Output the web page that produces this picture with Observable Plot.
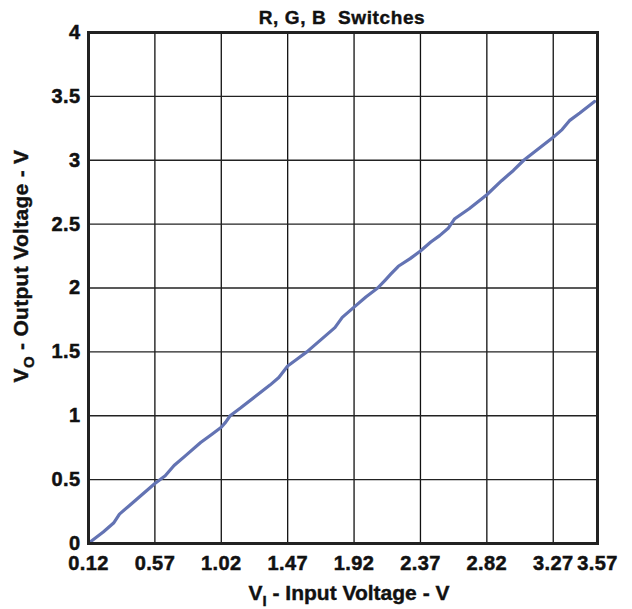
<!DOCTYPE html>
<html>
<head>
<meta charset="utf-8">
<script src="https://cdn.jsdelivr.net/npm/d3@7"></script>
<script src="https://cdn.jsdelivr.net/npm/@observablehq/plot@0.6"></script>
<style>
  html, body { margin: 0; padding: 0; background: #fff; }
</style>
</head>
<body>
<div id="chart"></div>
<script>
const inputV = [0.14, 0.22, 0.29, 0.33, 0.40, 0.48, 0.57, 0.64, 0.70, 0.78, 0.88, 0.95, 1.02, 1.05, 1.08, 1.15, 1.25, 1.35, 1.41, 1.47, 1.53, 1.60, 1.70, 1.79, 1.84, 1.92, 2.00, 2.08, 2.13, 2.17, 2.22, 2.30, 2.37, 2.44, 2.50, 2.56, 2.60, 2.70, 2.82, 2.92, 3.00, 3.07, 3.17, 3.27, 3.33, 3.38, 3.45, 3.55];
const outputV = [0.02, 0.09, 0.16, 0.23, 0.30, 0.38, 0.47, 0.53, 0.61, 0.69, 0.79, 0.85, 0.91, 0.95, 1.00, 1.06, 1.15, 1.24, 1.30, 1.39, 1.44, 1.50, 1.60, 1.69, 1.77, 1.85, 1.93, 2.00, 2.06, 2.11, 2.17, 2.23, 2.29, 2.36, 2.41, 2.47, 2.54, 2.62, 2.73, 2.84, 2.92, 3.00, 3.09, 3.18, 3.24, 3.31, 3.37, 3.46];
const xTicks = [0.12, 0.57, 1.02, 1.47, 1.92, 2.37, 2.82, 3.27, 3.57];
const yTicks = [0, 0.5, 1, 1.5, 2, 2.5, 3, 3.5, 4];
const titleText = "R, G, B  Switches";
const xLabelMain = "V", xLabelSub = "I", xLabelRest = " - Input Voltage - V";
const yLabelMain = "V", yLabelSub = "O", yLabelRest = " - Output Voltage - V";

const data = inputV.map((x, i) => ({x, y: outputV[i]}));
const font = '"Liberation Sans", Arial, sans-serif';

const plot = Plot.plot({
  width: 632,
  height: 609,
  marginLeft: 88,
  marginRight: 35,
  marginTop: 32,
  marginBottom: 66,
  style: {fontFamily: font, fontSize: "20px", fontWeight: "bold", color: "#111", background: "#fff", overflow: "visible"},
  x: {domain: [0.12, 3.57], ticks: xTicks, tickFormat: d => String(d), label: null},
  y: {domain: [0, 4], ticks: yTicks, tickFormat: d => String(d), label: null},
  marks: [
    Plot.ruleX(xTicks.slice(1, -1), {stroke: "#111", strokeWidth: 1.3}),
    Plot.ruleY(yTicks.slice(1, -1), {stroke: "#222", strokeWidth: 1.3}),
    Plot.line(data, {x: "x", y: "y", stroke: "#6373b3", strokeWidth: 3.2, strokeLinejoin: "round"}),
    Plot.frame({stroke: "#222", strokeWidth: 3}),
    Plot.axisX({ticks: xTicks, tickSize: 0, tickPadding: 12, fontSize: 20, fontWeight: "bold", tickFormat: d => String(d), label: null}),
    Plot.axisY({ticks: yTicks, tickSize: 0, tickPadding: 8, fontSize: 20, fontWeight: "bold", tickFormat: d => String(d), label: null})
  ]
});
document.getElementById("chart").appendChild(plot);

const svg = d3.select(plot);
svg.selectAll("g[aria-label='x-axis tick label'] text, g[aria-label='y-axis tick label'] text")
  .style("letter-spacing", "0.4px").style("stroke", "#111").style("stroke-width", "0.5px");
// title
svg.append("text")
  .attr("x", 342).attr("y", 24)
  .attr("text-anchor", "middle")
  .style("font", "bold 19px " + font).style("fill", "#111").style("letter-spacing", "0.6px")
  .style("stroke", "#111").style("stroke-width", "0.4px")
  .style("white-space", "pre").attr("xml:space", "preserve")
  .text(titleText);
// x axis label
const xl = svg.append("text")
  .attr("x", 349).attr("y", 600)
  .attr("text-anchor", "middle")
  .style("font", "bold 21px " + font).style("fill", "#111")
  .style("stroke", "#111").style("stroke-width", "0.4px");
xl.append("tspan").text(xLabelMain);
xl.append("tspan").attr("dy", 6).style("font-size", "15px").text(xLabelSub);
xl.append("tspan").attr("dy", -6).text(xLabelRest);
// y axis label
const yl = svg.append("text")
  .attr("transform", "translate(28, 266) rotate(-90)")
  .attr("text-anchor", "middle")
  .style("font", "bold 21px " + font).style("fill", "#111").style("letter-spacing", "0.3px")
  .style("stroke", "#111").style("stroke-width", "0.4px");
yl.append("tspan").text(yLabelMain);
yl.append("tspan").attr("dy", 6).style("font-size", "15px").text(yLabelSub);
yl.append("tspan").attr("dy", -6).text(yLabelRest);
</script>
</body>
</html>
